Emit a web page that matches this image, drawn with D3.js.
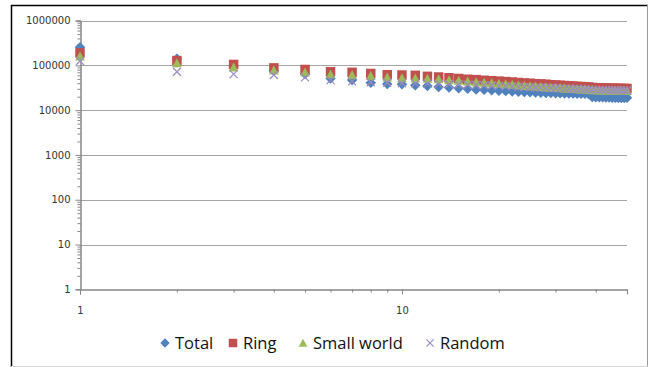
<!DOCTYPE html>
<html>
<head>
<meta charset="utf-8">
<script src="https://cdn.jsdelivr.net/npm/d3@7"></script>
<style>
  html, body { margin: 0; padding: 0; background: #fff; }
  svg { display: block; }
  .tick-label { font-family: "DejaVu Sans", sans-serif; font-size: 10px; fill: #333; }
  .legend-label { font-family: "Open Sans", sans-serif; font-size: 16.5px; fill: #111; }
</style>
</head>
<body>
<svg id="chart" width="648" height="367"></svg>
<script>
// x values: 1..50
const xs = d3.range(1, 51);

const totalVals = [255000, 140000, 98000, 76000, 64000, 51000, 47000, 41000, 38500, 38000,
  36000, 34500, 33000, 32000, 31000, 30000, 29000, 28500, 27800, 27200,
  26700, 26200, 25800, 25400, 25000, 24800, 24500, 24300, 24100, 23900,
  23800, 23700, 23600, 23500, 23400, 23300, 23200, 23100, 19600, 19500,
  19400, 19300, 19200, 19100, 19000, 18900, 18800, 18700, 18600, 19000];

const ringVals = [190000, 128000, 105000, 88000, 81000, 72000, 70000, 66000, 62000, 61000,
  60000, 57000, 55000, 53000, 51000, 49000, 48000, 46500, 45500, 44500,
  43500, 42500, 41500, 40500, 40000, 39000, 38500, 38000, 37000, 36500,
  36000, 35500, 35000, 34500, 34000, 33700, 33300, 33000, 32000, 31800,
  31600, 31400, 31200, 31000, 30900, 30800, 30700, 30600, 30500, 30500];

const smallWorldVals = [160000, 112000, 90000, 77000, 70000, 63000, 61000, 58000, 54000, 52000,
  51000, 50500, 49500, 47000, 45500, 44000, 42500, 41000, 40000, 39000,
  38000, 37000, 36000, 35000, 34500, 34000, 33000, 32500, 32000, 31500,
  31000, 30500, 30000, 29800, 29500, 29200, 29000, 28800, 28000, 27900,
  27800, 27700, 27600, 27500, 27400, 27300, 27200, 27100, 27000, 27000];

const randomVals = [125000, 72000, 64000, 61000, 54000, 47000, 44000, 42000, 41000, 40000,
  39500, 39000, 38500, 38000, 37500, 37000, 36500, 36000, 35500, 35000,
  34500, 34000, 33500, 33000, 32500, 32000, 31800, 31500, 31200, 31000,
  30700, 30400, 30100, 29900, 29700, 29500, 29300, 29100, 28500, 28400,
  28300, 28200, 28100, 28000, 27900, 27800, 27700, 27600, 27500, 27500];

const seriesNames = ["Total", "Ring", "Small world", "Random"];
const yTicks = [1, 10, 100, 1000, 10000, 100000, 1000000];
const xTicks = [1, 10];

// Marker shapes (Excel-like)
const diamond = { draw(c, s) { const r = Math.sqrt(s) / 2; c.moveTo(0, -r); c.lineTo(r, 0); c.lineTo(0, r); c.lineTo(-r, 0); c.closePath(); } };
const square = { draw(c, s) { const r = Math.sqrt(s) / 2; c.rect(-r, -r, 2 * r, 2 * r); } };
const triangle = { draw(c, s) { const r = Math.sqrt(s) / 2; c.moveTo(0, -r); c.lineTo(r, r * 0.85); c.lineTo(-r, r * 0.85); c.closePath(); } };
const cross = { draw(c, s) { const r = Math.sqrt(s) / 2; c.moveTo(-r, -r); c.lineTo(r, r); c.moveTo(r, -r); c.lineTo(-r, r); } };

const series = [
  { name: seriesNames[0], values: totalVals, shape: diamond, size: 110, fill: "#4F81BD", stroke: "none" },
  { name: seriesNames[1], values: ringVals, shape: square, size: 90, fill: "#C0504D", stroke: "none" },
  { name: seriesNames[2], values: smallWorldVals, shape: triangle, size: 95, fill: "#9BBB59", stroke: "none" },
  { name: seriesNames[3], values: randomVals, shape: cross, size: 64, fill: "none", stroke: "#9C8BBF" }
];

const svg = d3.select("#chart");

// chart frame
svg.append("line").attr("x1", 11).attr("x2", 648).attr("y1", 5.5).attr("y2", 5.5).attr("stroke", "#000").attr("stroke-width", 1.5);
svg.append("line").attr("x1", 11.5).attr("x2", 11.5).attr("y1", 5).attr("y2", 367).attr("stroke", "#000").attr("stroke-width", 1.5);
svg.append("line").attr("x1", 647.5).attr("x2", 647.5).attr("y1", 5).attr("y2", 367).attr("stroke", "#9a9a9a");
svg.append("line").attr("x1", 11).attr("x2", 648).attr("y1", 366.5).attr("y2", 366.5).attr("stroke", "#d4d4d4");

const x = d3.scaleLog().domain([1, 50]).range([80, 627]);
const y = d3.scaleLog().domain([1, 1000000]).range([289.3, 20.6]);

// gridlines
svg.append("g").selectAll("line")
  .data(yTicks.slice(1))
  .join("line")
  .attr("x1", 80).attr("x2", 627)
  .attr("y1", d => Math.round(y(d)) + 0.5).attr("y2", d => Math.round(y(d)) + 0.5)
  .attr("stroke", "#a6a6a6").attr("stroke-width", 1);

// minor ticks
const yMinor = [];
for (let p = 0; p < 6; p++) for (let k = 2; k <= 9; k++) yMinor.push(k * Math.pow(10, p));
const xMinor = [2, 3, 4, 5, 6, 7, 8, 9, 20, 30, 40, 50];

const yAxisMinor = svg.append("g").attr("transform", "translate(80.5,0)")
  .call(d3.axisLeft(y).tickValues(yMinor).tickSize(3).tickFormat(""));
const xAxisMinor = svg.append("g").attr("transform", `translate(0,${Math.round(y(1)) + 0.5})`)
  .call(d3.axisBottom(x).tickValues(xMinor).tickSize(3).tickFormat(""));

const yAxis = svg.append("g").attr("transform", "translate(80.5,0)")
  .call(d3.axisLeft(y).tickValues(yTicks).tickSize(5).tickPadding(5).tickFormat(d3.format("d")));
const xAxis = svg.append("g").attr("transform", `translate(0,${Math.round(y(1)) + 0.5})`)
  .call(d3.axisBottom(x).tickValues(xTicks).tickSize(5).tickPadding(12).tickFormat(d3.format("d")));

for (const g of [yAxisMinor, xAxisMinor, yAxis, xAxis]) {
  g.select(".domain").attr("stroke", "#868686");
  g.selectAll(".tick line").attr("stroke", "#868686");
  g.selectAll(".tick text").attr("class", "tick-label").attr("fill", "#333");
}

// markers
for (const s of series) {
  const sym = d3.symbol().type(s.shape).size(s.size);
  svg.append("g").selectAll("path")
    .data(xs.map((xv, i) => ({ x: xv, v: s.values[i] })))
    .join("path")
    .attr("transform", d => `translate(${x(d.x)},${y(d.v)})`)
    .attr("d", sym)
    .attr("fill", s.fill)
    .attr("stroke", s.stroke)
    .attr("stroke-width", 1.2);
}

// legend
const legendX = [165, 233, 303, 430];
const legend = svg.append("g");
series.forEach((s, i) => {
  const g = legend.append("g").attr("transform", `translate(${legendX[i]},343)`);
  g.append("path").attr("d", d3.symbol().type(s.shape).size(s.size * 0.8)())
    .attr("fill", s.fill).attr("stroke", s.stroke).attr("stroke-width", 1.2);
  g.append("text").attr("class", "legend-label").attr("x", 10).attr("y", 6).text(s.name);
});
</script>
</body>
</html>
